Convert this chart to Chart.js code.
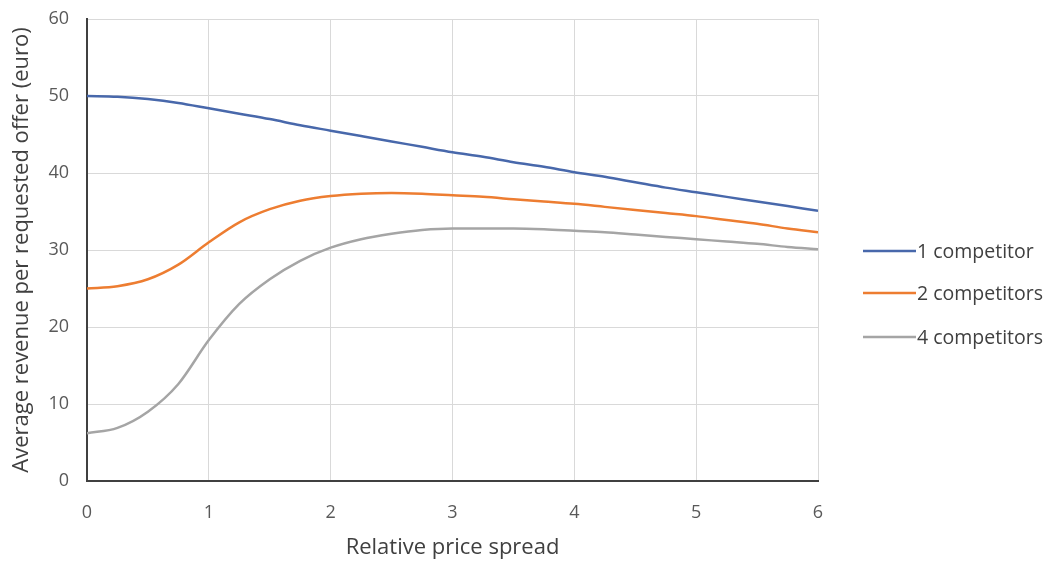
<!DOCTYPE html>
<html>
<head>
<meta charset="utf-8">
<script src="https://cdn.jsdelivr.net/npm/chart.js@4"></script>
<style>
  html, body { margin: 0; padding: 0; background: #ffffff; }
  #wrap { width: 1053px; height: 564px; position: relative; }
</style>
</head>
<body>
<div id="wrap"><canvas id="c"></canvas></div>
<script>
// Relative price spread sampled every 0.25
const spread = [0, 0.25, 0.5, 0.75, 1, 1.25, 1.5, 1.75, 2, 2.25, 2.5, 2.75, 3,
                3.25, 3.5, 3.75, 4, 4.25, 4.5, 4.75, 5, 5.25, 5.5, 5.75, 6];

// Average revenue per requested offer (euro)
const oneCompetitor = [50, 49.9, 49.6, 49.1, 48.4, 47.7, 47.0, 46.2, 45.5, 44.8, 44.1, 43.4, 42.7,
                       42.1, 41.4, 40.8, 40.1, 39.5, 38.8, 38.1, 37.5, 36.9, 36.3, 35.7, 35.1];
const twoCompetitors = [25, 25.3, 26.2, 28.1, 31.0, 33.6, 35.3, 36.4, 37.0, 37.3, 37.4, 37.3, 37.1,
                        36.9, 36.6, 36.3, 36.0, 35.6, 35.2, 34.8, 34.4, 33.9, 33.4, 32.8, 32.3];
const fourCompetitors = [6.2, 6.9, 9.0, 12.6, 18.3, 23.0, 26.2, 28.6, 30.3, 31.4, 32.1, 32.6, 32.8,
                         32.8, 32.8, 32.7, 32.5, 32.3, 32.0, 31.7, 31.4, 31.1, 30.8, 30.4, 30.1];

const seriesLabels = ['1 competitor', '2 competitors', '4 competitors'];
const xTicks = [0, 1, 2, 3, 4, 5, 6];
const yTicks = [0, 10, 20, 30, 40, 50, 60];

const FONT = '"Open Sans", "Liberation Sans", sans-serif';
const colors = ['#4868ab', '#ed7d31', '#a5a5a5'];

function toPoints(ys) { return spread.map((x, i) => ({ x: x, y: ys[i] })); }

// Legend drawn as line samples to the right of the plot
const sideLegend = {
  id: 'sideLegend',
  afterDraw(chart) {
    const ctx = chart.ctx;
    const x0 = 863, lineLen = 53, rowsY = [251, 293, 337];
    ctx.save();
    ctx.font = '19.5px ' + FONT;
    ctx.textBaseline = 'middle';
    ctx.textAlign = 'left';
    chart.data.datasets.forEach((ds, i) => {
      const y = rowsY[i];
      ctx.strokeStyle = ds.borderColor;
      ctx.lineWidth = 2.5;
      ctx.beginPath();
      ctx.moveTo(x0, y);
      ctx.lineTo(x0 + lineLen, y);
      ctx.stroke();
      ctx.fillStyle = '#404040';
      ctx.fillText(ds.label, x0 + lineLen + 1, y + 1);
    });
    ctx.restore();
  }
};

new Chart(document.getElementById('c'), {
  type: 'line',
  data: {
    datasets: [
      { label: seriesLabels[0], data: toPoints(oneCompetitor), borderColor: colors[0] },
      { label: seriesLabels[1], data: toPoints(twoCompetitors), borderColor: colors[1] },
      { label: seriesLabels[2], data: toPoints(fourCompetitors), borderColor: colors[2] }
    ]
  },
  options: {
    responsive: true,
    maintainAspectRatio: false,
    animation: false,
    layout: { padding: { left: 0, right: 235, top: 19, bottom: 0 } },
    elements: {
      point: { radius: 0, hoverRadius: 0 },
      line: { borderWidth: 2.5, tension: 0.4, cubicInterpolationMode: 'monotone', fill: false }
    },
    plugins: {
      legend: { display: false },
      tooltip: { enabled: false }
    },
    scales: {
      x: {
        type: 'linear',
        min: 0, max: 6,
        afterBuildTicks(scale) { scale.ticks = xTicks.map(v => ({ value: v })); },
        afterFit(scale) { scale.height = 83; scale.paddingLeft = 0; scale.paddingRight = 0; },
        ticks: { color: '#595959', font: { family: FONT, size: 18 }, padding: 21 },
        grid: { color: '#d9d9d9', lineWidth: 1, drawTicks: false },
        border: { color: '#404040', width: 2 },
        title: { display: true, text: 'Relative price spread', color: '#404040',
                 font: { family: FONT, size: 22 }, padding: { top: 0, bottom: 3 } }
      },
      y: {
        min: 0, max: 60,
        afterBuildTicks(scale) { scale.ticks = yTicks.map(v => ({ value: v })); },
        afterFit(scale) { scale.width = 87; scale.paddingTop = 0; scale.paddingBottom = 0; },
        ticks: { color: '#595959', font: { family: FONT, size: 18 }, padding: 18 },
        grid: { color: '#d9d9d9', lineWidth: 1, drawTicks: false },
        border: { color: '#404040', width: 2 },
        title: { display: true, text: 'Average revenue per requested offer (euro)', color: '#404040',
                 font: { family: FONT, size: 22 }, padding: { top: 9, bottom: 0 } }
      }
    }
  },
  plugins: [sideLegend]
});
</script>
</body>
</html>
